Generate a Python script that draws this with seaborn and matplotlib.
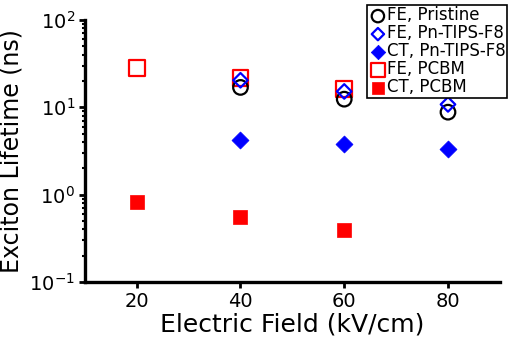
import numpy as np
import pandas as pd
import seaborn as sns
import matplotlib
matplotlib.use("Agg")
import matplotlib.pyplot as plt
from matplotlib.ticker import LogLocator, NullFormatter

# data (electric field in kV/cm, lifetime in ns)
field_fe_pristine = [40, 60, 80]
life_fe_pristine = [16.9, 12.4, 8.8]

field_fe_pn = [40, 60, 80]
life_fe_pn = [20.4, 15.2, 10.8]

field_ct_pn = [40, 60, 80]
life_ct_pn = [4.2, 3.85, 3.35]

field_fe_pcbm = [20, 40, 60]
life_fe_pcbm = [28.0, 21.5, 16.3]

field_ct_pcbm = [20, 40, 60]
life_ct_pcbm = [0.83, 0.56, 0.39]

sns.set_style("ticks")
plt.rcParams['font.family'] = ['DejaVu Sans']
for key in ['text.color', 'axes.labelcolor', 'xtick.color', 'ytick.color', 'axes.edgecolor']:
    plt.rcParams[key] = 'black'

fig = plt.figure(figsize=(5.08, 3.44), dpi=100)
ax = fig.add_axes([0.167, 0.180, 0.817, 0.762])

# open markers
sns.scatterplot(x=field_fe_pristine, y=life_fe_pristine, marker='o', s=110,
                facecolor='none', edgecolor='black', linewidth=1.6,
                label='FE, Pristine', ax=ax, zorder=3)
sns.scatterplot(x=field_fe_pn, y=life_fe_pn, marker='D', s=55,
                facecolor='none', edgecolor='blue', linewidth=1.6,
                label='FE, Pn-TIPS-F8', ax=ax, zorder=4)
sns.scatterplot(x=field_ct_pn, y=life_ct_pn, marker='D', s=75,
                facecolor='blue', edgecolor='blue', linewidth=0.5,
                label='CT, Pn-TIPS-F8', ax=ax, zorder=3)
sns.scatterplot(x=field_fe_pcbm, y=life_fe_pcbm, marker='s', s=130,
                facecolor='none', edgecolor='red', linewidth=1.6,
                label='FE, PCBM', ax=ax, zorder=2)
sns.scatterplot(x=field_ct_pcbm, y=life_ct_pcbm, marker='s', s=95,
                facecolor='red', edgecolor='red', linewidth=0.5,
                label='CT, PCBM', ax=ax, zorder=3)

ax.set_yscale('log')
ax.set_ylim(0.1, 100)
ax.set_xlim(10, 90)
ax.set_xticks([20, 40, 60, 80])
ax.yaxis.set_major_locator(LogLocator(base=10, numticks=10))
ax.yaxis.set_minor_locator(LogLocator(base=10, subs=np.arange(2, 10), numticks=10))
ax.yaxis.set_minor_formatter(NullFormatter())

sns.despine(ax=ax)
for side in ['left', 'bottom']:
    ax.spines[side].set_linewidth(2.4)
ax.tick_params(which='major', direction='out', length=4, width=2, labelsize=14, pad=3)
ax.tick_params(which='minor', direction='out', length=2.5, width=1.5)

ax.set_xlabel('Electric Field (kV/cm)', fontsize=18, labelpad=1)
ax.set_ylabel('Exciton Lifetime (ns)', fontsize=17, labelpad=4)

leg = ax.legend(loc='upper right', bbox_to_anchor=(0.999, 0.986),
                bbox_transform=fig.transFigure, fontsize=12,
                frameon=True, fancybox=False, framealpha=1, edgecolor='black',
                borderpad=0.1, labelspacing=0.0, handletextpad=0.0,
                handlelength=1.1, borderaxespad=0.0, markerscale=0.85)
leg.get_frame().set_linewidth(1.2)

fig.savefig('out.png', dpi=100)
